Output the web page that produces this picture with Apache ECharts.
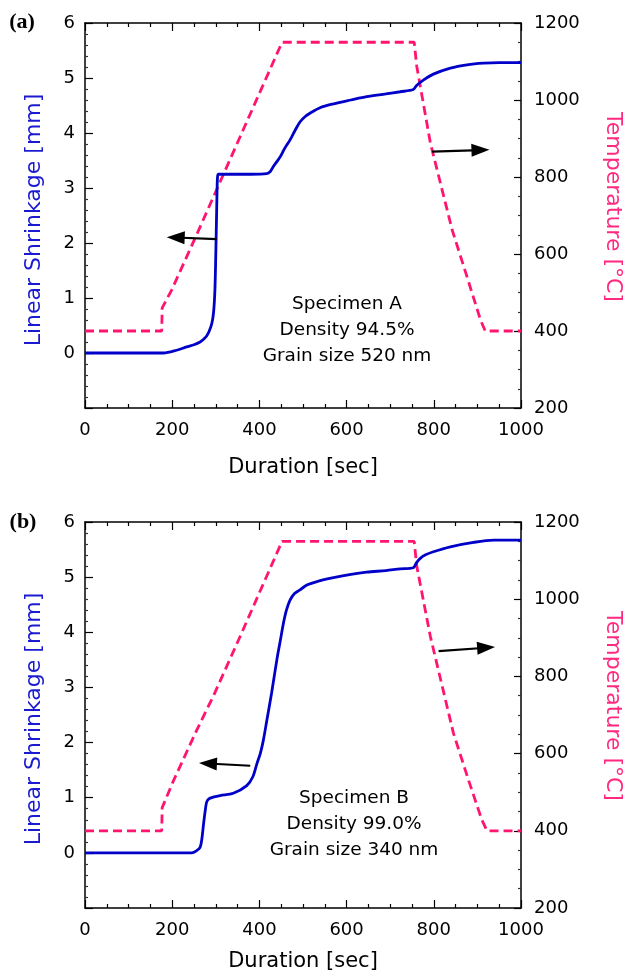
<!DOCTYPE html>
<html>
<head>
<meta charset="utf-8">
<script src="https://cdn.jsdelivr.net/npm/echarts@6/dist/echarts.min.js"></script>
<style>
  html, body { margin: 0; padding: 0; background: #fff; }
  #chart { width: 627px; height: 975px; }
</style>
</head>
<body>
<div id="chart"></div>
<script>
// (a) specimen A
const shrinkTimeA = [0, 180, 210, 233, 250, 264, 272, 279, 285, 291, 295, 298, 300, 302, 303, 304, 306, 330, 380, 417, 425, 432, 440, 448, 458, 470, 482, 493, 505, 516, 539, 570, 610, 646, 690, 723, 753, 760, 776, 799, 838, 876, 914, 950, 1000]
const shrinkA = [0, 0, 0.05, 0.11, 0.15, 0.2, 0.25, 0.31, 0.4, 0.54, 0.75, 1.15, 1.8, 2.6, 3.0, 3.2, 3.25, 3.25, 3.25, 3.26, 3.3, 3.39, 3.48, 3.57, 3.72, 3.87, 4.05, 4.2, 4.3, 4.36, 4.46, 4.53, 4.6, 4.66, 4.71, 4.75, 4.79, 4.86, 4.96, 5.07, 5.18, 5.24, 5.27, 5.28, 5.28]
const tempTimeA = [0, 176, 177, 199, 256, 452, 755, 761, 792, 842, 875, 907, 918, 1000]
const tempA = [400, 400, 460, 507, 650, 1150, 1150, 1087, 889, 663, 545, 429, 400, 400]

// (b) specimen B
const shrinkTimeB = [0, 245, 256, 264, 268, 272, 276, 279, 284, 294, 310, 340, 371, 385, 394, 402, 409, 417, 428, 440, 448, 455, 462, 470, 480, 493, 510, 532, 570, 610, 646, 690, 723, 753, 760, 769, 780, 799, 838, 891, 937, 1000]
const shrinkB = [0, 0, 0.04, 0.1, 0.25, 0.53, 0.78, 0.92, 0.98, 1.01, 1.04, 1.08, 1.22, 1.38, 1.61, 1.8, 2.04, 2.4, 2.9, 3.5, 3.85, 4.16, 4.4, 4.58, 4.7, 4.77, 4.86, 4.92, 4.99, 5.05, 5.09, 5.12, 5.15, 5.17, 5.26, 5.34, 5.4, 5.46, 5.55, 5.63, 5.67, 5.67]
const tempTimeB = [0, 176, 177, 203, 256, 294, 356, 452, 755, 761, 792, 845, 880, 910, 922, 1000]
const tempB = [400, 400, 460, 530, 660, 748, 904, 1150, 1150, 1085, 904, 653, 530, 429, 400, 400]

const xTicks = [0, 1000, 200]
const shrinkTicks = [-1, 6, 1]
const tempTicks = [200, 1200, 200]

const notesA = ['Specimen A', 'Density 94.5%', 'Grain size 520 nm']
const notesB = ['Specimen B', 'Density 99.0%', 'Grain size 340 nm']

// arrows [from, to] in data units
const arrowsA = [[[302, 2.07], [208, 2.1]], [[796, 3.66], [907, 3.69]]]
const arrowsB = [[[379, 1.58], [282, 1.62]], [[811, 3.66], [920, 3.72]]]

const FONT = 'DejaVu Sans'
const BLUE = '#0000c8'
const PINK = '#ff1470'

const zip = (xs, ys) => xs.map((x, i) => [x, ys[i]])

function xAxis(gridIndex, top, nameGap) {
  return {
    type: 'value',
    gridIndex: gridIndex,
    position: top ? 'top' : 'bottom',
    min: xTicks[0],
    max: xTicks[1],
    interval: xTicks[2],
    name: top ? '' : 'Duration [sec]',
    nameLocation: 'middle',
    nameGap: nameGap,
    nameTextStyle: { fontFamily: FONT, fontSize: 21, color: '#000' },
    axisLine: { onZero: false, lineStyle: { color: '#000', width: 1.5 } },
    axisTick: { inside: true, length: 8, lineStyle: { color: '#000', width: 1.2 } },
    minorTick: { show: true, splitNumber: 4, length: 4, lineStyle: { color: '#000', width: 1.2 } },
    axisLabel: { show: !top, margin: 13, fontFamily: FONT, fontSize: 18, color: '#000', formatter: v => String(v) },
    splitLine: { show: false }
  }
}

function leftAxis(gridIndex) {
  return {
    type: 'value',
    gridIndex: gridIndex,
    position: 'left',
    min: shrinkTicks[0],
    max: shrinkTicks[1],
    interval: shrinkTicks[2],
    axisLine: { show: true, onZero: false, lineStyle: { color: '#000', width: 1.5 } },
    axisTick: { inside: true, length: 8, lineStyle: { color: '#000', width: 1.2 } },
    minorTick: { show: true, splitNumber: 5, length: 3, lineStyle: { color: '#333', width: 1.2 } },
    axisLabel: {
      margin: 10, fontFamily: FONT, fontSize: 18, color: '#000',
      formatter: v => (v < 0 ? '' : String(v))
    },
    splitLine: { show: false }
  }
}

function rightAxis(gridIndex) {
  return {
    type: 'value',
    gridIndex: gridIndex,
    position: 'right',
    min: tempTicks[0],
    max: tempTicks[1],
    interval: tempTicks[2],
    axisLine: { show: true, onZero: false, lineStyle: { color: '#000', width: 1.5 } },
    axisTick: { inside: true, length: 7, lineStyle: { color: '#000', width: 1.2 } },
    minorTick: { show: true, splitNumber: 4, length: 3, lineStyle: { color: '#333', width: 1.2 } },
    axisLabel: { margin: 13, fontFamily: FONT, fontSize: 18, color: '#000', formatter: v => String(v) },
    splitLine: { show: false }
  }
}

function arrowLine(arrows) {
  return {
    silent: true,
    symbol: ['none', 'triangle'],
    symbolSize: [13, 18],
    label: { show: false },
    lineStyle: { color: '#000', width: 2.2, type: 'solid' },
    itemStyle: { color: '#000' },
    data: arrows.map(a => [{ coord: a[0] }, { coord: a[1] }])
  }
}

function notes(lines, cx, y0) {
  return lines.map((t, i) => ({
    type: 'text',
    x: cx,
    y: y0 + i * 26,
    style: { text: t, fill: '#000', font: '18.5px "' + FONT + '"', align: 'center', verticalAlign: 'middle' }
  }))
}

function vTitle(text, x, y, color, rot) {
  return {
    type: 'text',
    x: x,
    y: y,
    rotation: rot,
    style: { text: text, fill: color, font: '22px "' + FONT + '"', align: 'center', verticalAlign: 'middle' }
  }
}

const lineBase = { type: 'line', showSymbol: false, smooth: 0.3 }

const chart = echarts.init(document.getElementById('chart'))
chart.setOption({
  animation: false,
  backgroundColor: '#fff',
  grid: [
    { left: 85, top: 23, width: 436, height: 385 },
    { left: 85, top: 522, width: 436, height: 386 }
  ],
  xAxis: [xAxis(0, false, 49), xAxis(0, true), xAxis(1, false, 43), xAxis(1, true)],
  yAxis: [leftAxis(0), rightAxis(0), leftAxis(1), rightAxis(1)],
  series: [
    {
      type: 'line', xAxisIndex: 0, yAxisIndex: 1, data: zip(tempTimeA, tempA),
      showSymbol: false, lineStyle: { color: PINK, width: 2.8, type: [9, 5] }
    },
    Object.assign({}, lineBase, {
      xAxisIndex: 0, yAxisIndex: 0, data: zip(shrinkTimeA, shrinkA),
      lineStyle: { color: BLUE, width: 2.8 },
      markLine: arrowLine(arrowsA)
    }),
    {
      type: 'line', xAxisIndex: 2, yAxisIndex: 3, data: zip(tempTimeB, tempB),
      showSymbol: false, lineStyle: { color: PINK, width: 2.8, type: [9, 5] }
    },
    Object.assign({}, lineBase, {
      xAxisIndex: 2, yAxisIndex: 2, data: zip(shrinkTimeB, shrinkB),
      lineStyle: { color: BLUE, width: 2.8 },
      markLine: arrowLine(arrowsB)
    })
  ],
  graphic: [
    { type: 'text', x: 22, y: 22, style: { text: '(a)', fill: '#000', font: 'bold 22px "Liberation Serif"', align: 'center', verticalAlign: 'middle' } },
    { type: 'text', x: 23, y: 522, style: { text: '(b)', fill: '#000', font: 'bold 22px "Liberation Serif"', align: 'center', verticalAlign: 'middle' } },
    vTitle('Linear Shrinkage [mm]', 34, 220, '#1a1ad0', Math.PI / 2),
    vTitle('Temperature [°C]', 613, 207, '#ff2a80', -Math.PI / 2),
    vTitle('Linear Shrinkage [mm]', 34, 719, '#1a1ad0', Math.PI / 2),
    vTitle('Temperature [°C]', 613, 706, '#ff2a80', -Math.PI / 2)
  ].concat(notes(notesA, 347, 304), notes(notesB, 354, 798))
})
</script>
</body>
</html>
